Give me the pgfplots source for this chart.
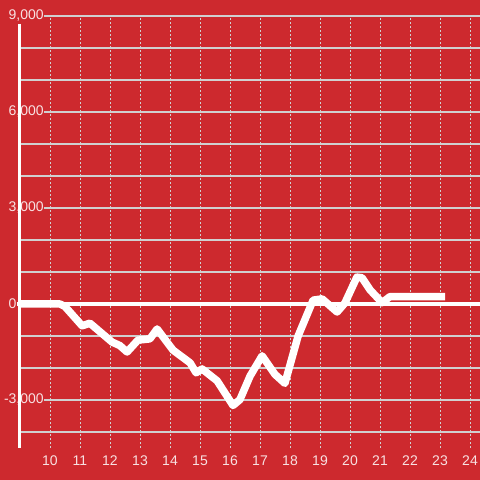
\documentclass[border=0pt]{standalone}
\usepackage{fontspec}
\setmainfont{Liberation Sans}
\usepackage{pgfplots}
\pgfplotsset{compat=1.18}
\definecolor{bgred}{RGB}{205,41,46}
\definecolor{gridgray}{RGB}{208,208,208}
\colorlet{labelpink}{white!86!bgred}
\newcommand{\tickfont}{\fontsize{14pt}{16pt}\selectfont}

\begin{document}
\begin{tikzpicture}
\fill[bgred] (-20pt,-32pt) rectangle (460pt,448pt);
\useasboundingbox (-20pt,-32pt) rectangle (460pt,448pt);
\begin{axis}[
    at={(0pt,0pt)}, anchor=south west,
    scale only axis,
    width=460pt, height=432pt,
    xmin=9, xmax=24.333,
    ymin=-4500, ymax=9000,
    clip=false,
    axis line style={draw=none},
    /pgf/number format/assume math mode=true,
    xtick={10,...,24},
    xticklabels={10,11,12,13,14,15,16,17,18,19,20,21,22,23,24},
    ytick={-3000,0,3000,6000,9000},
    yticklabels={{\llap{-}3,000},{0},{3,000},{6,000},{9,000}},
    minor ytick={-4000,-3000,...,9000},
    major tick length=0pt, minor tick length=0pt,
    xmajorgrids, yminorgrids,
    major grid style={gridgray, line width=1pt, dash pattern=on 2pt off 2pt},
    minor grid style={gridgray, line width=1.2pt},
    every tick label/.append style={text=labelpink},
    yticklabel style={font=\tickfont, anchor=west, xshift=-12pt, fill=bgred, inner sep=0.5pt},
    xticklabel style={font=\tickfont, anchor=north, inner sep=0pt, yshift=-8pt},
]
\addplot[white, line width=3.5pt] coordinates {(8.9,0) (24.333,0)};
\draw[white, line width=3pt] (axis cs:9,8750) -- (axis cs:9,-4500);
\addplot[white, line width=7.5pt, line join=round] coordinates {
(9,0) (10.33,0) (10.5,-80) (11.07,-680) (11.33,-600)
(12.07,-1190) (12.33,-1300) (12.57,-1500) (12.93,-1130) (13.33,-1090)
(13.57,-780) (14.1,-1440) (14.67,-1840) (14.87,-2150) (15.07,-2030)
(15.57,-2400) (16.1,-3170) (16.33,-2990) (16.67,-2250) (17.07,-1620)
(17.5,-2200) (17.83,-2480) (18.27,-1000) (18.77,120) (19.07,160)
(19.57,-250) (19.83,30) (20.23,840) (20.4,820) (20.67,440)
(21.07,40) (21.33,230) (23.17,230)
};
\end{axis}
\end{tikzpicture}
\end{document}
